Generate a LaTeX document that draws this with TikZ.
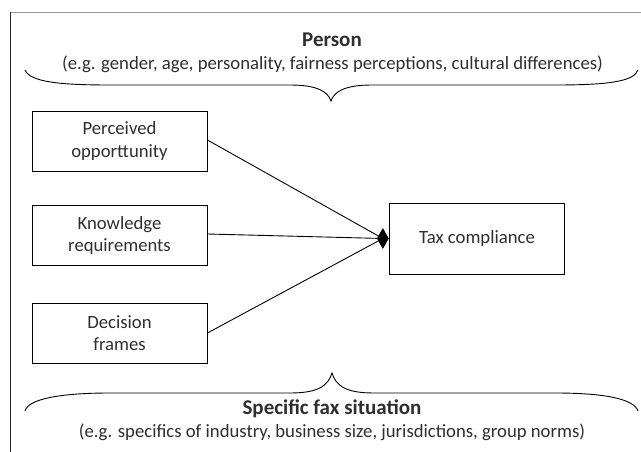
\documentclass[tikz,border=0pt]{standalone}
\usepackage{fontspec}
\setmainfont{Carlito}
\usetikzlibrary{shapes.geometric,arrows.meta}
\definecolor{txt}{HTML}{2E2E2E}
\begin{document}
\begin{tikzpicture}[x=1pt,y=-1pt,
  factor/.style={draw=black,line width=0.9pt,text=txt,align=center,inner sep=0pt,
    minimum width=175pt,minimum height=60pt,font=\fontsize{18.7}{22.5}\selectfont},
  head/.style={text=txt,font=\bfseries\fontsize{21}{25}\selectfont,inner sep=0pt},
  sub/.style={text=txt,font=\fontsize{18.7}{22}\selectfont,inner sep=0pt},
  brace/.style={line width=0.9pt,black},
  link/.style={line width=0.9pt,black}]
\useasboundingbox (0,0) rectangle (641,452);
% frame
\draw[line width=1pt,gray!80] (10,12.5) -- (641,12.5);
\draw[line width=1pt,black!85] (10.5,12) -- (10.5,452);
% top
\node[head] (person) at (332,40) {Person};
\node[sub] (personsub) at (332.5,64) {(e.g. gender, age, personality, fairness perceptions, cultural differences)};
\draw[brace] (25,70) .. controls (30,82) and (60,85) .. (110,85)
  -- (290,85) .. controls (318,85) and (328,92) .. (331,101)
  .. controls (334,92) and (344,85) .. (372,85) -- (555,85)
  .. controls (605,85) and (634,82) .. (638,70);
% bottom
\node[head] (sit) at (332,409) {Specific fax situation};
\node[sub] (sitsub) at (332,432) {(e.g. specifics of industry, business size, jurisdictions, group norms)};
\draw[brace] (25,411) .. controls (28,399) and (60,393) .. (110,393)
  -- (290,393) .. controls (318,393) and (328,386) .. (332,373)
  .. controls (336,386) and (346,393) .. (374,393) -- (555,393)
  .. controls (605,393) and (634,399) .. (638,411);
% boxes
\node[factor] (opp) at (119.5,141) {Perceived\\opporttunity};
\node[factor] (know) at (119.5,235.5) {Knowledge\\requirements};
\node[factor] (dec) at (119.5,333) {Decision\\frames};
\node[factor,minimum height=71pt] (tax) at (477,238.5) {Tax compliance};
\node[diamond,fill=black,inner sep=0pt,minimum width=12pt,minimum height=21pt,anchor=east] (dia) at (tax.west) {};
\draw[link] (opp.east |- 0,140) -- (dia.center);
\draw[link] (know.east |- 0,234) -- (dia.center);
\draw[link] (dec.east |- 0,333) -- (dia.center);
\end{tikzpicture}
\end{document}
